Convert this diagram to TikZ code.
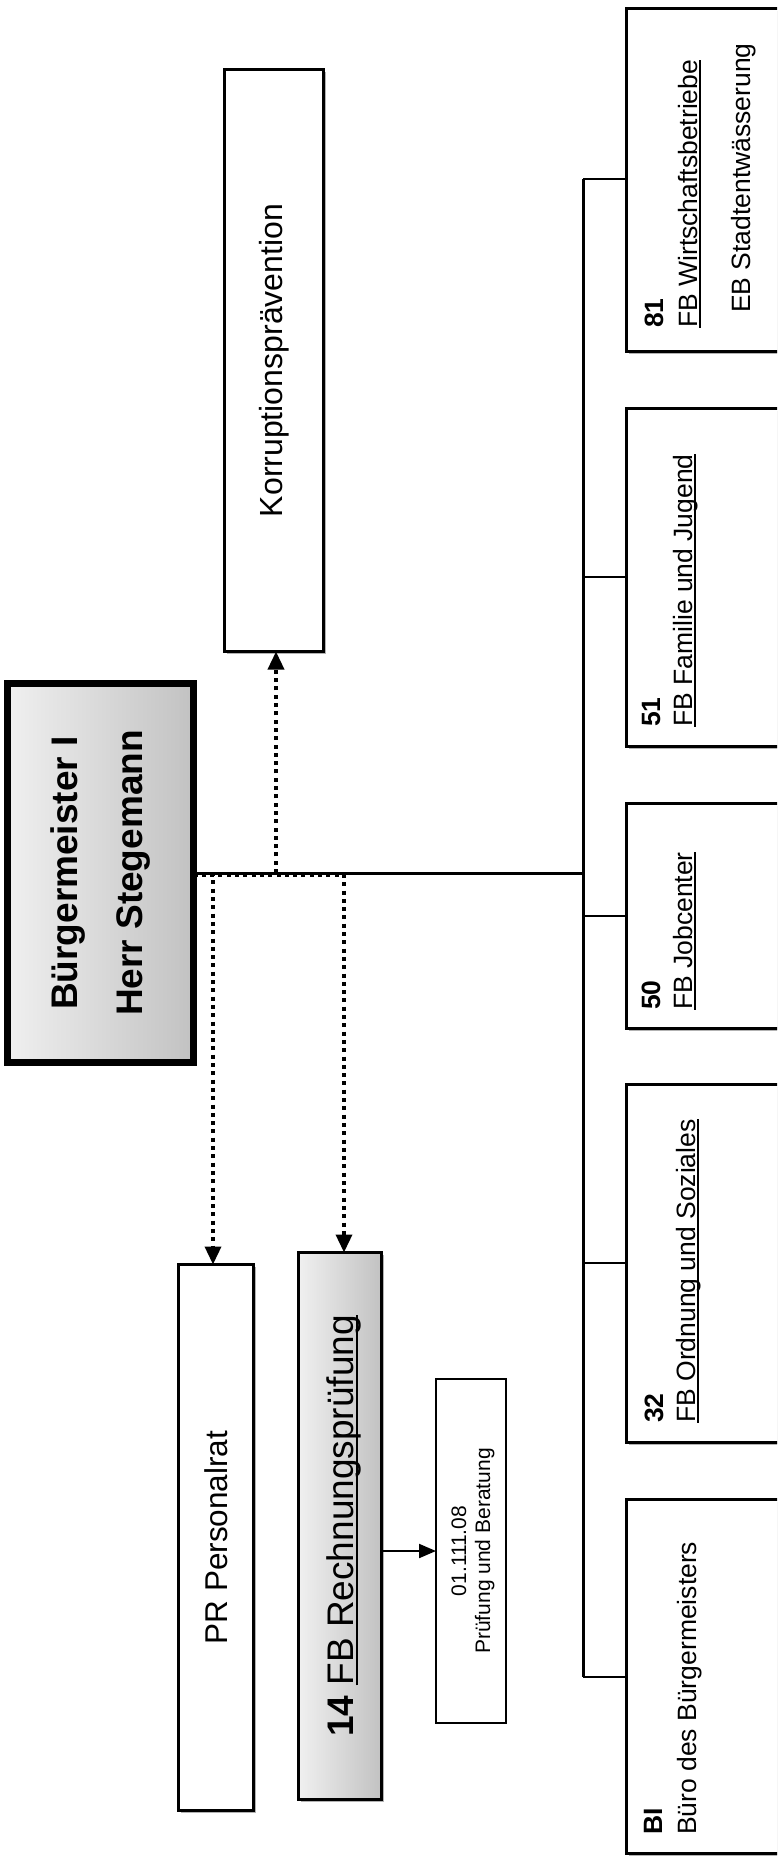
\documentclass[tikz,border=0pt]{standalone}
\usepackage{fontspec}
\setmainfont{Liberation Sans}
\usetikzlibrary{arrows.meta,shadows,calc}
\newsavebox\myulbox
\newcommand\myul[1]{\sbox\myulbox{#1}\rlap{\rule[-0.14em]{\wd\myulbox}{0.07em}}\usebox\myulbox}
\newcommand\myfA{\fontsize{37}{44}\selectfont\bfseries}
\newcommand\myfB{\fontsize{32}{38}\selectfont}
\newcommand\myfP{\fontsize{31.5}{38}\selectfont}
\newcommand\myfC{\fontsize{37}{44}\selectfont}
\newcommand\myfD{\fontsize{21}{25}\selectfont}
\newcommand\myfE{\fontsize{26.5}{32}\selectfont}
\begin{document}
\begin{tikzpicture}[x=1pt,y=-1pt,
  box/.style={draw=black, line width=3pt, fill=white, inner sep=0pt, outer sep=0pt,
    drop shadow={shadow xshift=2.5pt, shadow yshift=-2.5pt, opacity=0.3, fill=black}},
  gbox/.style={box, left color=gray!12, right color=gray!48},
  bmbox/.style={gbox, line width=7pt},
  smbox/.style={draw=black, line width=2pt, fill=white, inner sep=0pt, outer sep=0pt},
  rtxt/.style={rotate=90, inner sep=0pt},
  dotarrow/.style={line width=3.5pt, dash pattern=on 4pt off 4.3pt, -{Triangle[length=18pt,width=16pt]}},
  solidarrow/.style={line width=2pt, -{Triangle[length=17pt,width=14pt]}},
  bus/.style={line width=3pt},
  conn/.style={line width=2pt}
]
\clip (0,0) rectangle (777,1857);
\fill[white] (0,0) rectangle (777,1857);

% right column boxes
\node[box, minimum width=183.5pt, minimum height=343pt] (b81) at (718,180) {};
\node[box, minimum width=183.5pt, minimum height=338pt] (b51) at (718,577.5) {};
\node[box, minimum width=183.5pt, minimum height=225pt] (b50) at (718,916) {};
\node[box, minimum width=183.5pt, minimum height=358pt] (b32) at (718,1263.5) {};
\node[box, minimum width=183.5pt, minimum height=354pt] (bI) at (718,1676.5) {};

\node[rtxt, anchor=base west, font=\myfE\bfseries] (t81a) at (663,328) {81};
\node[rtxt, anchor=base west, font=\myfE] (t81b) at (697,328) {\myul{FB Wirtschaftsbetriebe}};
\node[rtxt, anchor=base west, font=\myfE] (t81c) at (750,313) {EB Stadtentwässerung};

\node[rtxt, anchor=base west, font=\myfE\bfseries] (t51a) at (660,727) {51};
\node[rtxt, anchor=base west, font=\myfE] (t51b) at (692,727) {\myul{FB Familie und Jugend}};

\node[rtxt, anchor=base west, font=\myfE\bfseries] (t50a) at (660,1010) {50};
\node[rtxt, anchor=base west, font=\myfE] (t50b) at (692,1010) {\myul{FB Jobcenter}};

\node[rtxt, anchor=base west, font=\myfE\bfseries] (t32a) at (663,1423) {32};
\node[rtxt, anchor=base west, font=\myfE] (t32b) at (695,1423) {\myul{FB Ordnung und Soziales}};

\node[rtxt, anchor=base west, font=\myfE\bfseries] (tIa) at (662,1835) {BI};
\node[rtxt, anchor=base west, font=\myfE] (tIb) at (696,1835) {Büro des Bürgermeisters};

% Bürgermeister
\node[bmbox, minimum width=186pt, minimum height=379pt] (bm) at (100.5,873) {};
\node[rtxt, anchor=base, font=\myfA] (bm1) at (77,873) {Bürgermeister I};
\node[rtxt, anchor=base, font=\myfA] (bm2) at (142,873) {Herr Stegemann};

% Korruptionsprävention
\node[box, minimum width=99pt, minimum height=582pt] (korr) at (274,360.5) {};
\node[rtxt, font=\myfB] (korrt) at (korr.center) {Korruptionsprävention};

% PR
\node[box, minimum width=75pt, minimum height=546pt] (pr) at (216,1537.5) {};
\node[rtxt, font=\myfP] (prt) at (pr.center) {PR Personalrat};

% 14
\node[gbox, minimum width=83pt, minimum height=547pt] (fb14) at (340,1526) {};
\node[rtxt, anchor=base, font=\myfC] (fb14t) at (353,1526) {\textbf{14} \myul{FB Rechnungsprüfung}};

% small box
\node[smbox, minimum width=70pt, minimum height=344pt] (sm) at (471,1551) {};
\node[rtxt, anchor=base, font=\myfD] (sm1) at (466,1551) {01.111.08};
\node[rtxt, anchor=base, font=\myfD] (sm2) at (490,1551) {Prüfung und Beratung};

% bus and connectors
\coordinate (busT) at (583,179);
\coordinate (busB) at (583,1677);
\coordinate (c51) at (583,577);
\coordinate (c50) at (583,916);
\coordinate (c32) at (583,1263);
\draw[bus] (busT) -- (busB);
\draw[conn] (busT) -- (busT -| b81.west);
\draw[conn] (c51) -- (c51 -| b51.west);
\draw[conn] (c50) -- (c50 -| b50.west);
\draw[conn] (c32) -- (c32 -| b32.west);
\draw[conn] (busB) -- (busB -| bI.west);
\draw[bus] (bm.east) -- (bm.east -| busT);

% dotted arrows
\draw[dotarrow] ([yshift=-2pt]bm.east) -| ([xshift=-3pt]pr.north);
\draw[dotarrow] ([yshift=-2pt]bm.east) -| ([xshift=4pt]fb14.north);
\draw[dotarrow] ([xshift=2pt]korr.south |- bm.east) -- ([xshift=2pt]korr.south);

% solid arrow
\draw[solidarrow] (fb14.east |- sm.west) -- (sm.west);
\end{tikzpicture}
\end{document}
